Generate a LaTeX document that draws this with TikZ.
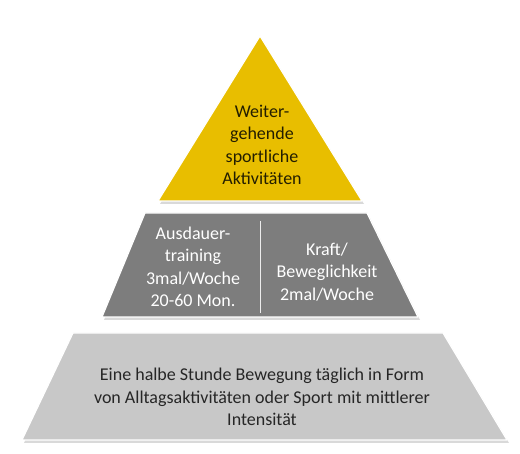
\documentclass[tikz,border=0pt]{standalone}
\usepackage{fontspec}
\setmainfont{Carlito}
\begin{document}
\begin{tikzpicture}[x=1pt,y=-1pt,
  layer/.style={draw=white,line width=1.2pt,line join=round},
  lbl/.style={align=center,font=\fontsize{18}{22.5}\selectfont,inner sep=0pt}]
\useasboundingbox (0,0) rectangle (520,454);
% shadows
\fill[black!15] (262,39) -- (364,204) -- (160,204) -- cycle;
\fill[black!15] (147,216) -- (369,216) -- (420,320) -- (104,320) -- cycle;
\fill[black!15] (75,336) -- (445,336) -- (509,443) -- (24,443) -- cycle;
% shapes
\path[layer,fill={rgb,255:red,232;green,190;blue,0}] (260,36) -- (362,201) -- (158,201) -- cycle;
\path[layer,fill={rgb,255:red,125;green,125;blue,125}] (145,213) -- (367,213) -- (418,317) -- (102,317) -- cycle;
\path[layer,fill={rgb,255:red,200;green,200;blue,200}] (73,333) -- (443,333) -- (507,440) -- (22,440) -- cycle;
\coordinate (dt) at (260,221);
\coordinate (db) at (260,313);
\draw[white!85!gray,line width=0.8pt] (dt) -- (db);
% labels
\node[lbl,text={rgb,255:red,35;green,30;blue,0}] (top) at (262,145) {Weiter-\\gehende\\sportliche\\Aktivitäten};
\node[lbl,text=white] (midl) at (193,267) {Ausdauer-\\training\\3mal/Woche\\20-60 Mon.};
\node[lbl,text=white] (midr) at (327,272) {Kraft/\\Beweglichkeit\\2mal/Woche};
\node[lbl,text=black!85] (bot) at (262,397) {Eine halbe Stunde Bewegung täglich in Form\\von Alltagsaktivitäten oder Sport mit mittlerer\\Intensität};
\end{tikzpicture}
\end{document}
